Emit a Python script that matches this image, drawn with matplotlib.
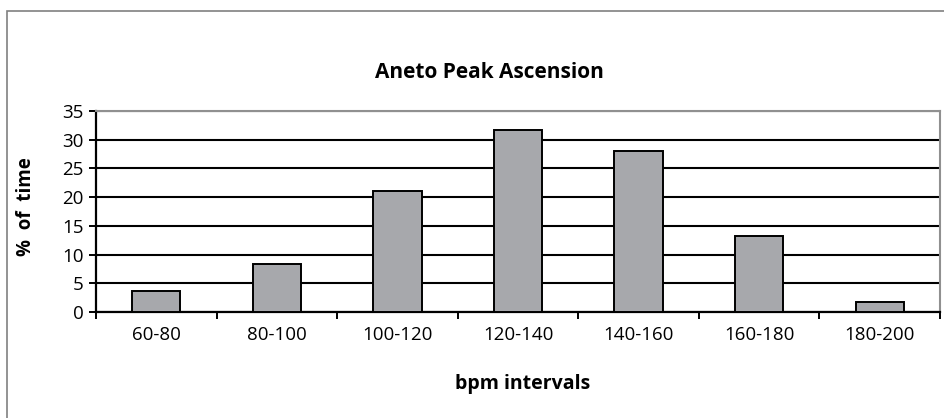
import numpy as np
import matplotlib.pyplot as plt
from matplotlib.patches import Rectangle

plt.rcParams['font.family'] = ['Open Sans', 'DejaVu Sans']

categories = ["60-80", "80-100", "100-120", "120-140", "140-160", "160-180", "180-200"]
pct_time = [3.6, 8.3, 21.1, 31.7, 28.0, 13.3, 1.8]
y_ticks = [0, 5, 10, 15, 20, 25, 30, 35]

W, H = 944, 418
fig = plt.figure(figsize=(W / 100, H / 100), dpi=100)

# outer chart frame (grey, runs off the right and bottom of the image)
fig.patches.append(Rectangle((7 / W, -0.05), 1.0, (H - 11) / H + 0.05,
                             transform=fig.transFigure, fill=False,
                             edgecolor='#808080', linewidth=1.2))

ax = fig.add_axes([96 / W, (H - 312) / H, (940 - 96) / W, (312 - 111) / H])

x = np.arange(len(categories))
ax.bar(x, pct_time, width=0.4, color='#a7a8ac', edgecolor='black', linewidth=1.4, zorder=3)

ax.set_xlim(-0.5, len(categories) - 0.5)
ax.set_ylim(0, 35)
ax.set_yticks(y_ticks)
ax.set_yticklabels([str(t) for t in y_ticks], fontsize=13.5)
ax.yaxis.grid(True, color='black', linewidth=1.5, zorder=1)
ax.set_axisbelow(True)

# categories between ticks, ticks at boundaries
ax.set_xticks(np.arange(len(categories) + 1) - 0.5)
ax.set_xticklabels([])
ax.set_xticks(x, minor=True)
ax.set_xticklabels(categories, minor=True, fontsize=13.5)
ax.tick_params(axis='x', which='minor', length=0, pad=10)
ax.tick_params(axis='x', which='major', length=5, width=1.4, direction='out')
ax.tick_params(axis='y', length=5, width=1.4, direction='out', pad=4)

for side in ['top', 'right']:
    ax.spines[side].set_color('#909090')
    ax.spines[side].set_linewidth(1.5)
for side in ['left', 'bottom']:
    ax.spines[side].set_color('black')
    ax.spines[side].set_linewidth(1.6)

fig.text(489 / W, 1 - 72 / H, "Aneto Peak Ascension", ha='center', va='center',
         fontsize=15, fontweight='bold')
fig.text(523 / W, 1 - 384 / H, "bpm intervals", ha='center', va='center',
         fontsize=14, fontweight='bold')
fig.text(26 / W, 1 - 207 / H, "%  of  time", ha='center', va='center', rotation=90,
         fontsize=13.5, fontweight='bold')

fig.savefig("out.png", dpi=100)
